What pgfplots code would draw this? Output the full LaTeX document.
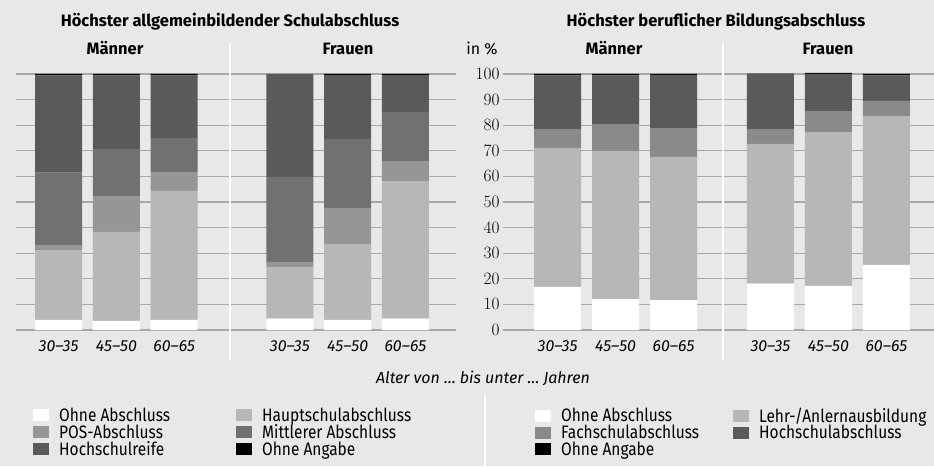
\documentclass[border=0pt]{standalone}
\usepackage{fontspec}
\setmainfont{Fira Sans}
\newfontfamily\legfont[FakeStretch=0.86]{Fira Sans}
\usepackage{pgfplots}
\pgfplotsset{compat=1.18}
\definecolor{bg}{HTML}{E8E8E8}
\definecolor{gridc}{HTML}{A8A8A8}
\definecolor{cHaupt}{HTML}{B7B7B7}
\definecolor{cPOS}{HTML}{969696}
\definecolor{cFach}{HTML}{8A8A8A}
\definecolor{cMitt}{HTML}{717171}
\definecolor{cHoch}{HTML}{5A5A5A}

\pgfplotsset{
  sq/.style={fill=#1, draw=none,
    legend image code/.code={\fill[#1] (0pt,-6pt) rectangle (16pt,6pt); \path (26pt,0pt);}},
  panel/.style={
    ybar stacked, bar width=47pt, scale only axis, height=256pt,
    ymin=0, ymax=100, ytick={0,10,...,100},
    ymajorgrids, major grid style={gridc, line width=1.3pt},
    axis line style={draw=none}, major tick length=0pt,
    xticklabel style={font=\itshape\fontsize{16}{18}\selectfont, yshift=-7pt},
    yticklabel style={font=\fontsize{16}{18}\selectfont},
    clip=false,
    legend style={draw=none, fill=none, inner sep=0pt, column sep=0pt, row sep=1.5pt,
      font=\legfont\fontsize{18}{18}\selectfont, anchor=north west,
      nodes={inner sep=0pt}},
    legend cell align=left, legend columns=2,
  },
}

\begin{document}
\begin{tikzpicture}
\useasboundingbox (0,0) rectangle (934pt,466pt);
\fill[bg] (0,0) rectangle (934pt,466pt);

% left panel: allgemeinbildender Schulabschluss
\begin{axis}[panel, at={(16pt,136pt)}, anchor=south west, width=440pt,
  xmin=-0.737, xmax=6.875, xtick={0,1,2,4,5,6},
  xticklabels={30--35,45--50,60--65,30--35,45--50,60--65},
  yticklabels={},
  legend style={at={(axis description cs:0.0386,-0.303)}}]
\addplot[sq=white]  coordinates {(0,4.0) (1,3.6) (2,4.0) (4,4.4) (5,4.0) (6,4.4)};
\addplot[sq=cHaupt] coordinates {(0,27.0) (1,34.7) (2,50.3) (4,20.2) (5,29.6) (6,53.8)};
\addplot[sq=cPOS]   coordinates {(0,2.3) (1,14.0) (2,7.4) (4,2.0) (5,14.1) (6,7.8)};
\addplot[sq=cMitt]  coordinates {(0,28.2) (1,18.4) (2,13.3) (4,33.2) (5,26.9) (6,19.2)};
\addplot[sq=cHoch]  coordinates {(0,38.0) (1,28.8) (2,24.5) (4,40.2) (5,25.0) (6,14.4)};
\addplot[sq=black]  coordinates {(0,0.5) (1,0.5) (2,0.5) (4,0.0) (5,0.4) (6,0.4)};
\legend{\makebox[177pt][l]{Ohne Abschluss},Hauptschulabschluss,
  \makebox[177pt][l]{POS-Abschluss},Mittlerer Abschluss,
  \makebox[177pt][l]{Hochschulreife},Ohne Angabe}
\end{axis}

% right panel: beruflicher Bildungsabschluss
\begin{axis}[panel, at={(503pt,136pt)}, anchor=south west, width=431pt,
  xmin=-0.94, xmax=6.49, xtick={0,1,2,3.67,4.67,5.67},
  xticklabels={30--35,45--50,60--65,30--35,45--50,60--65},
  legend style={at={(axis description cs:0.0742,-0.303)}}]
\addplot[sq=white]  coordinates {(0,16.8) (1,12.1) (2,11.7) (3.67,18.1) (4.67,17.2) (5.67,25.4)};
\addplot[sq=cHaupt] coordinates {(0,54.3) (1,57.8) (2,55.9) (3.67,54.6) (4.67,60.1) (5.67,58.2)};
\addplot[sq=cFach]  coordinates {(0,7.4) (1,10.6) (2,11.3) (3.67,5.8) (4.67,8.2) (5.67,5.9)};
\addplot[sq=cHoch]  coordinates {(0,21.0) (1,19.0) (2,20.8) (3.67,21.7) (4.67,14.5) (5.67,10.0)};
\addplot[sq=black]  coordinates {(0,0.5) (1,0.5) (2,0.3) (3.67,0.0) (4.67,0.4) (5.67,0.5)};
\legend{\makebox[172pt][l]{Ohne Abschluss},Lehr-/Anlernausbildung,
  \makebox[172pt][l]{Fachschulabschluss},Hochschulabschluss,
  \makebox[172pt][l]{Ohne Angabe}}
\end{axis}

% separators
\draw[white, line width=2pt] (230pt,106pt) -- (230pt,423pt);
\draw[white, line width=2pt] (723pt,106pt) -- (723pt,423pt);
\draw[white, line width=2pt] (485pt,0pt) -- (485pt,71pt);

% titles
\begin{scope}[every node/.style={inner sep=0pt, anchor=base, font=\bfseries\fontsize{16.5}{20}\selectfont}]
\node at (230pt,439pt) {Höchster allgemeinbildender Schulabschluss};
\node at (716pt,439pt) {Höchster beruflicher Bildungsabschluss};
\node at (115pt,411pt) {Männer};
\node at (348pt,411pt) {Frauen};
\node at (614pt,411pt) {Männer};
\node at (828pt,411pt) {Frauen};
\end{scope}
\node[inner sep=0pt, anchor=base, font=\fontsize{16}{18}\selectfont] at (482pt,411pt) {in \%};
\node[inner sep=0pt, anchor=base, font=\itshape\fontsize{16}{18}\selectfont] at (483pt,83pt) {Alter von … bis unter … Jahren};
\end{tikzpicture}
\end{document}
